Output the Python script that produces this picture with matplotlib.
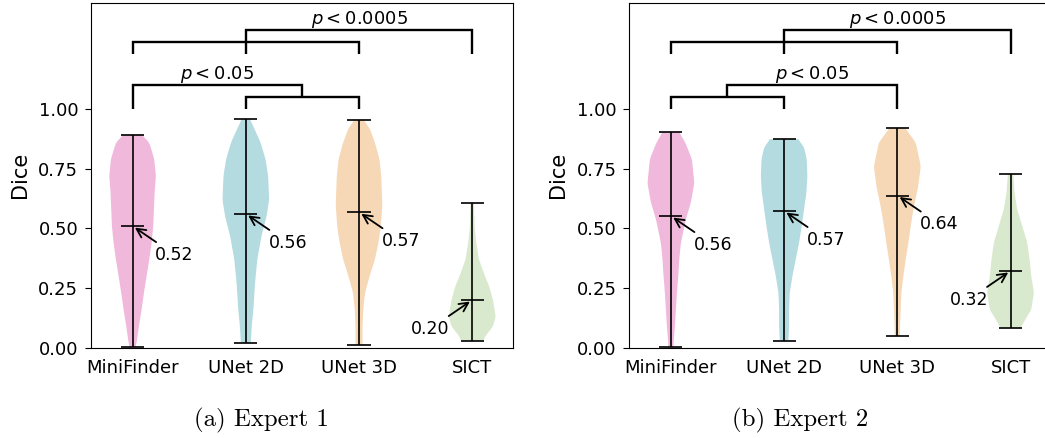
import numpy as np
import matplotlib
matplotlib.use("Agg")
import matplotlib.pyplot as plt

# ---------------- DATA ---------------- #
methods = ["MiniFinder", "UNet 2D", "UNet 3D", "SICT"]
colors = ["#f0b9dc", "#b4dbe0", "#f6d8b6", "#d9e9cd"]
yticks = [0.00, 0.25, 0.50, 0.75, 1.00]

# expert 1: density profile (relative half widths)
e1_coords = [
    [0.00, 0.02, 0.09, 0.16, 0.23, 0.30, 0.37, 0.44, 0.51, 0.58, 0.65, 0.72, 0.79, 0.86, 0.893],
    [0.02, 0.09, 0.16, 0.27, 0.37, 0.47, 0.55, 0.62, 0.72, 0.79, 0.86, 0.93, 0.959],
    [0.01, 0.09, 0.16, 0.23, 0.30, 0.37, 0.44, 0.51, 0.60, 0.72, 0.79, 0.86, 0.92, 0.956],
    [0.03, 0.05, 0.09, 0.13, 0.20, 0.26, 0.30, 0.37, 0.44, 0.51, 0.608],
]
e1_dens = [
    [8, 12, 19, 27, 34, 42, 50, 57, 62, 64, 66, 70, 65, 50, 27],
    [15, 18, 23, 28, 35, 48, 63, 71, 68, 60, 45, 22, 12],
    [10, 10, 12, 17, 30, 45, 55, 62, 66, 63, 58, 45, 30, 12],
    [33, 40, 62, 70, 62, 50, 38, 20, 12, 7, 5],
]
e1_min = [0.003, 0.021, 0.011, 0.030]
e1_max = [0.893, 0.959, 0.956, 0.608]
e1_median = [0.510, 0.561, 0.568, 0.200]
e1_labels = ["0.52", "0.56", "0.57", "0.20"]

# expert 2
e2_coords = [
    [0.00, 0.02, 0.09, 0.16, 0.23, 0.30, 0.37, 0.44, 0.54, 0.61, 0.69, 0.79, 0.86, 0.903],
    [0.03, 0.09, 0.16, 0.23, 0.30, 0.37, 0.44, 0.51, 0.58, 0.65, 0.72, 0.79, 0.84, 0.874],
    [0.05, 0.09, 0.16, 0.23, 0.30, 0.37, 0.44, 0.51, 0.58, 0.675, 0.76, 0.86, 0.923],
    [0.083, 0.12, 0.16, 0.23, 0.30, 0.37, 0.44, 0.51, 0.58, 0.65, 0.73],
]
e2_dens = [
    [8, 8, 12, 15, 18, 22, 25, 30, 45, 60, 70, 63, 43, 25],
    [13, 15, 15, 17, 25, 35, 45, 53, 60, 67, 70, 68, 60, 42],
    [8, 8, 10, 12, 18, 25, 33, 40, 48, 62, 70, 55, 22],
    [30, 45, 62, 70, 62, 57, 50, 35, 20, 12, 8],
]
e2_min = [0.003, 0.029, 0.050, 0.083]
e2_max = [0.903, 0.874, 0.923, 0.730]
e2_median = [0.552, 0.573, 0.638, 0.322]
e2_labels = ["0.56", "0.57", "0.64", "0.32"]

# significance brackets: (x1, y1, x2, y2, top)
e1_brackets = [(2, 1.0, 3, 1.0, 1.05), (1, 1.0, 2.5, 1.05, 1.10),
               (1, 1.23, 3, 1.23, 1.28), (2, 1.23, 4, 1.23, 1.33)]
e2_brackets = [(1, 1.0, 2, 1.0, 1.05), (1.5, 1.05, 3, 1.0, 1.10),
               (1, 1.23, 3, 1.23, 1.28), (2, 1.23, 4, 1.23, 1.33)]
e1_ptext = [(1.75, 1.10, r"$p < 0.05$"), (3, 1.33, r"$p < 0.0005$")]
e2_ptext = [(2.25, 1.10, r"$p < 0.05$"), (3, 1.33, r"$p < 0.0005$")]

# label side for the median annotation (+1 right, -1 left)
label_side = [1, 1, 1, -1]

# ---------------- PLOT ---------------- #
W, H = 1045, 438
fig = plt.figure(figsize=(W / 100, H / 100), dpi=100)


def smooth_profile(c, d, n=200, k=11):
    # resample the read-off profile and soften the corners a bit
    y = np.linspace(c[0], c[-1], n)
    v = np.interp(y, c, d)
    kern = np.hanning(k)
    kern /= kern.sum()
    v = np.convolve(np.pad(v, k // 2, mode="edge"), kern, mode="valid")
    return y, v


def draw_panel(rect, coords, dens, mins, maxs, medians, labels, brackets, ptext):
    ax = fig.add_axes(rect)
    positions = np.arange(1, len(methods) + 1)
    stats = []
    for c, d, lo, hi, med in zip(coords, dens, mins, maxs, medians):
        y, v = smooth_profile(c, d)
        stats.append(dict(coords=y, vals=v, mean=med, median=med, min=lo, max=hi))
    parts = ax.violin(stats, positions=positions, widths=0.41,
                      showmeans=False, showextrema=True, showmedians=True)
    for body, col in zip(parts["bodies"], colors):
        body.set_facecolor(col)
        body.set_edgecolor("none")
        body.set_alpha(1)
    for key in ["cbars", "cmins", "cmaxes", "cmedians"]:
        parts[key].set_color("black")
        parts[key].set_linewidth(1.2)

    for p, med, lab, side in zip(positions, medians, labels, label_side):
        ax.annotate(lab, xy=(p, med), xytext=(p + side * 0.2, med - 0.12),
                    ha="left" if side > 0 else "right", va="center", fontsize=12.5,
                    arrowprops=dict(arrowstyle="->", color="black", lw=1.3,
                                    mutation_scale=16, shrinkA=1, shrinkB=2))

    for x1, y1, x2, y2, top in brackets:
        ax.plot([x1, x1, x2, x2], [y1, top, top, y2], color="black", lw=1.7,
                solid_joinstyle="miter", solid_capstyle="butt")
    for x, y, t in ptext:
        ax.text(x, y + 0.002, t, ha="center", va="bottom", fontsize=13)

    ax.set_xlim(0.63, 4.36)
    ax.set_ylim(0, 1.445)
    ax.set_xticks(positions, methods, fontsize=13)
    ax.tick_params(axis="x", length=0, pad=8)
    ax.set_yticks(yticks, [f"{v:.2f}" for v in yticks], fontsize=13)
    ax.tick_params(axis="y", length=4, pad=5)
    ax.set_ylabel("Dice", fontsize=15, labelpad=6)
    return ax


bottom = (H - 347.7) / H
height = (347.7 - 3) / H
width = (513 - 90.7) / W
draw_panel([90.7 / W, bottom, width, height], e1_coords, e1_dens, e1_min, e1_max,
           e1_median, e1_labels, e1_brackets, e1_ptext)
draw_panel([629 / W, bottom, width, height], e2_coords, e2_dens, e2_min, e2_max,
           e2_median, e2_labels, e2_brackets, e2_ptext)

fig.text(261.7 / W, 1 - 420 / H, "(a) Expert 1", family="cmr10", fontsize=17.9,
         ha="center", va="center")
fig.text(800 / W, 1 - 420 / H, "(b) Expert 2", family="cmr10", fontsize=17.9,
         ha="center", va="center")

fig.savefig("out.png", dpi=100)
